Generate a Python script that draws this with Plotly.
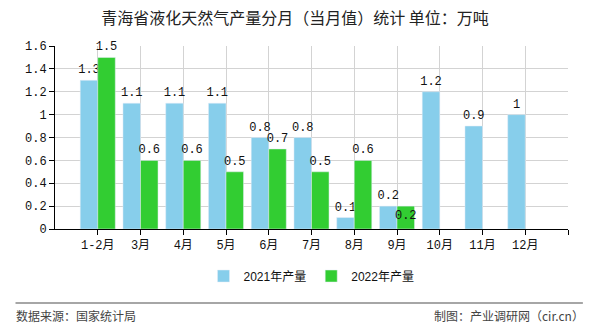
import plotly.graph_objects as go

categories = ["1-2月", "3月", "4月", "5月", "6月", "7月", "8月", "9月", "10月", "11月", "12月"]
values_2021 = [1.3, 1.1, 1.1, 1.1, 0.8, 0.8, 0.1, 0.2, 1.2, 0.9, 1]
values_2022 = [1.5, 0.6, 0.6, 0.5, 0.7, 0.5, 0.6, 0.2, None, None, None]
series_names = ["2021年产量", "2022年产量"]
y_ticks = [0, 0.2, 0.4, 0.6, 0.8, 1, 1.2, 1.4, 1.6]

x_pos = list(range(len(categories)))
label_font = dict(family="Liberation Mono, Noto Sans CJK SC", size=12, color="#111")

def fmt(v):
    if v is None:
        return ""
    return ("%g" % v)

fig = go.Figure()
fig.add_trace(go.Bar(
    x=x_pos, y=values_2021, name=series_names[0], marker_color="#87CEEB",
    text=[fmt(v) for v in values_2021], textposition="outside", textangle=0,
    textfont=label_font, cliponaxis=False,
))
pos22 = ["outside"] * len(values_2022)
pos22[7] = "inside"
fig.add_trace(go.Bar(
    x=x_pos, y=values_2022, name=series_names[1], marker_color="#32CD32",
    text=[fmt(v) for v in values_2022], textposition=pos22, textangle=0,
    insidetextanchor="end",
    textfont=label_font, cliponaxis=False,
))

fig.update_layout(
    width=590, height=330,
    margin=dict(l=55, r=22, t=46, b=101),
    paper_bgcolor="white", plot_bgcolor="white",
    barmode="group", bargap=0.18, bargroupgap=0,
    uniformtext=dict(minsize=12, mode="show"),
    title=dict(text="青海省液化天然气产量分月（当月值）统计 单位：万吨",
               x=0.5, xanchor="center", y=0.945, yanchor="middle",
               font=dict(family="Noto Sans CJK SC", size=16, color="#222")),
    legend=dict(orientation="h", x=0.5, xanchor="center", y=-0.257, yanchor="middle",
                font=dict(family="Liberation Sans, Noto Sans CJK SC", size=12, color="#111"),
                itemwidth=30, traceorder="normal"),
    showlegend=True,
)
fig.update_xaxes(
    range=[-1, len(categories)],
    tickmode="array", tickvals=list(range(len(categories) + 1)),
    ticktext=categories + [""],
    showgrid=True, gridcolor="#d3d3d3", gridwidth=1,
    showline=True, linecolor="#000", linewidth=1,
    ticks="outside", ticklen=5, tickcolor="#000",
    tickfont=label_font, zeroline=False,
)
fig.update_yaxes(
    range=[0, 1.6], tickvals=y_ticks, ticktext=[("%g" % t) for t in y_ticks],
    showgrid=True, gridcolor="#d3d3d3", gridwidth=1,
    showline=True, linecolor="#000", linewidth=1,
    ticks="outside", ticklen=5, tickcolor="#000",
    tickfont=label_font, zeroline=False,
)

fig.add_shape(type="line", xref="paper", yref="paper",
              x0=-0.077, x1=1.029, y0=-0.405, y1=-0.405,
              line=dict(color="#888", width=1.5))
fig.add_annotation(text="数据来源：国家统计局", xref="paper", yref="paper",
                   x=-0.08, xanchor="left", y=-0.475, yanchor="middle", showarrow=False,
                   font=dict(family="Noto Sans CJK SC", size=12, color="#444"))
fig.add_annotation(text="制图：产业调研网（cir.cn）", xref="paper", yref="paper",
                   x=1.035, xanchor="right", y=-0.475, yanchor="middle", showarrow=False,
                   font=dict(family="Noto Sans CJK SC", size=12, color="#444"))

fig.write_html("out.html")
